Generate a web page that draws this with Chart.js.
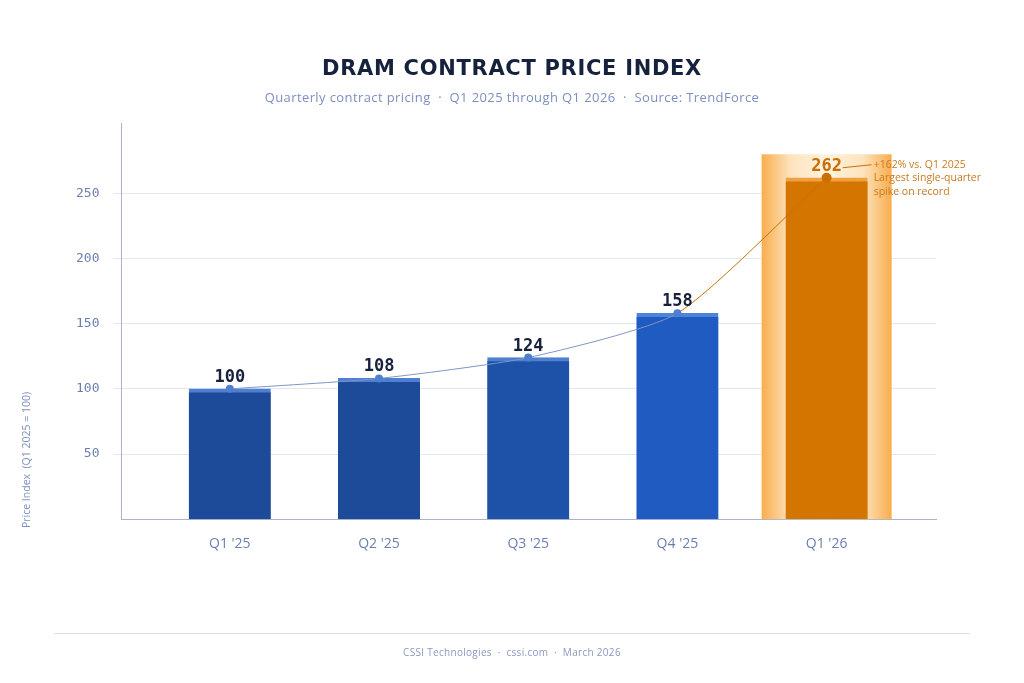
<!DOCTYPE html>
<html>
<head>
<meta charset="utf-8">
<script src="https://cdn.jsdelivr.net/npm/chart.js@4"></script>
<style>
  body { margin: 0; background: #fff; font-family: "DejaVu Sans", sans-serif; }
  #wrap { position: relative; width: 1024px; height: 683px; }
  #c { position: absolute; left: 0; top: 0; }
  .title { position: absolute; top: 56px; width: 100%; text-align: center; font: bold 21px "DejaVu Sans", sans-serif; color: #16213e; letter-spacing: 0.7px; }
  .sub { position: absolute; top: 88px; width: 100%; text-align: center; font: 13px "Open Sans", sans-serif; color: #7d8fbf; letter-spacing: 0.4px; }
  .rule { position: absolute; left: 54px; right: 54px; top: 633px; border-top: 1px solid #d8deea; }
  .foot { position: absolute; top: 645px; width: 100%; text-align: center; font: 10px "Open Sans", sans-serif; color: #8a98c0; letter-spacing: 0.3px; }
</style>
</head>
<body>
<div id="wrap">
  <canvas id="c" width="1024" height="683"></canvas>
  <div class="title">DRAM CONTRACT PRICE INDEX</div>
  <div class="sub">Quarterly contract pricing &nbsp;·&nbsp; Q1 2025 through Q1 2026 &nbsp;·&nbsp; Source: TrendForce</div>
  <div class="rule"></div>
  <div class="foot">CSSI Technologies &nbsp;·&nbsp; cssi.com &nbsp;·&nbsp; March 2026</div>
</div>
<script>
const quarters = ["Q1 '25", "Q2 '25", "Q3 '25", "Q4 '25", "Q1 '26"];
const priceIndex = [100, 108, 124, 158, 262];
const yTicks = [50, 100, 150, 200, 250];
const barColors = ["#1d4a99", "#1d4a99", "#1e52a8", "#1f5bc0", "#d47500"];
const topColors = ["#4f7fd0", "#4f7fd0", "#4f7fd0", "#4f84dc", "#f0a040"];
const annotation = ["+162% vs. Q1 2025", "Largest single-quarter", "spike on record"];

const points = priceIndex.map((v, i) => ({ x: i, y: v }));

const glowPlugin = {
    id: "glow",
    beforeDatasetsDraw(chart) {
        const bar = chart.getDatasetMeta(1).data[4];
        const ctx = chart.ctx;
        const w = 130, top = chart.scales.y.getPixelForValue(280);
        const left = bar.x - w / 2, bottom = chart.chartArea.bottom;
        ctx.save();
        const g = ctx.createLinearGradient(left, 0, left + w, 0);
        g.addColorStop(0, "#f9ad4d");
        g.addColorStop(0.22, "#fde3bd");
        g.addColorStop(0.5, "#fff3e0");
        g.addColorStop(0.78, "#fde3bd");
        g.addColorStop(1, "#f9ad4d");
        ctx.fillStyle = g;
        ctx.fillRect(left, top, w, bottom - top);
        ctx.restore();
    }
};

const labelPlugin = {
    id: "labels",
    afterDatasetsDraw(chart) {
        const ctx = chart.ctx;
        const y = chart.scales.y;
        const bars = chart.getDatasetMeta(1).data;
        ctx.save();
        ctx.textAlign = "center";
        ctx.textBaseline = "bottom";
        bars.forEach((b, i) => {
            ctx.font = "bold 17px 'DejaVu Sans Mono', monospace";
            ctx.fillStyle = i === 4 ? "#c96f05" : "#16213e";
            ctx.fillText(String(priceIndex[i]), b.x, y.getPixelForValue(priceIndex[i]) - 3);
        });
        const last = bars[4];
        const py = y.getPixelForValue(priceIndex[4]);
        ctx.strokeStyle = "#c96f05";
        ctx.lineWidth = 1;
        ctx.beginPath();
        ctx.moveTo(last.x + 16, py - 10);
        ctx.lineTo(last.x + 45, py - 13);
        ctx.stroke();
        ctx.textAlign = "left";
        ctx.textBaseline = "middle";
        ctx.font = "10.5px 'Open Sans', sans-serif";
        ctx.fillStyle = "#c97a20";
        annotation.forEach((t, i) => ctx.fillText(t, last.x + 47, py - 13 + i * 13.5));
        ctx.translate(27, 460);
        ctx.rotate(-Math.PI / 2);
        ctx.textAlign = "center";
        ctx.font = "10.5px 'Open Sans', sans-serif";
        ctx.fillStyle = "#7d8fbf";
        ctx.fillText("Price Index  (Q1 2025 = 100)", 0, 0);
        ctx.restore();
    }
};

new Chart(document.getElementById("c"), {
    data: {
        datasets: [
            {
                type: "line",
                data: points,
                borderColor: "#7f95c4",
                borderWidth: 1,
                tension: 0.2,
                pointRadius: ctx => ctx.dataIndex === 4 ? 5 : 4,
                pointBackgroundColor: ctx => ctx.dataIndex === 4 ? "#c96f05" : "#4f7fd0",
                pointBorderWidth: 0,
                segment: { borderColor: ctx => ctx.p1DataIndex === 4 ? "#c96f05" : "#7f95c4" },
                order: 0
            },
            {
                type: "bar",
                data: points,
                backgroundColor: barColors,
                borderColor: topColors,
                borderWidth: { top: 4, left: 0, right: 0, bottom: 0 },
                borderSkipped: false,
                barThickness: 82,
                order: 1
            }
        ]
    },
    options: {
        responsive: false,
        animation: false,
        layout: { padding: { left: 62, right: 88, top: 123, bottom: 123 } },
        plugins: { legend: { display: false }, tooltip: { enabled: false } },
        scales: {
            x: {
                type: "linear",
                min: -0.726, max: 4.733,
                offset: false,
                afterBuildTicks: s => { s.ticks = quarters.map((q, i) => ({ value: i })); },
                grid: { display: false },
                border: { color: "#a9b3cc" },
                ticks: { color: "#6b7fb0", font: { size: 14, family: "'Open Sans', sans-serif" }, padding: 8,
                         callback: v => quarters[v] }
            },
            y: {
                min: 0, max: 304,
                afterBuildTicks: s => { s.ticks = yTicks.map(v => ({ value: v })); },
                grid: { color: "#e3e7f0" },
                border: { color: "#a9b3cc" },
                ticks: { color: "#6b7fb0", font: { size: 13, family: "'DejaVu Sans Mono', monospace" }, padding: 14 }
            }
        }
    },
    plugins: [glowPlugin, labelPlugin]
});
</script>
</body>
</html>
